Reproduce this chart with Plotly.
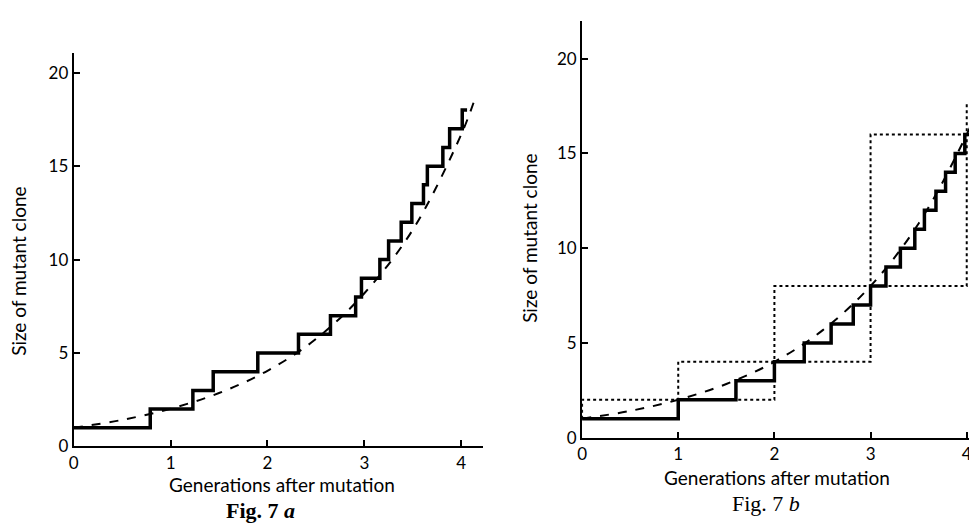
import plotly.graph_objects as go

# ---- data ----
# Fig. 7a: observed clone size (step) and expected growth (dashed)
a_step_x = [0, 0.79, 1.23, 1.44, 1.90, 2.32, 2.65, 2.91, 2.97, 3.16, 3.25, 3.38, 3.49, 3.61, 3.65, 3.81, 3.88, 4.01, 4.06]
a_step_y = [1, 2, 3, 4, 5, 6, 7, 8, 9, 10, 11, 12, 13, 14, 15, 16, 17, 18, 18]
a_curve_x = [0, 0.5, 1.0, 1.5, 2.0, 2.5, 3.0, 3.5, 4.0, 4.14]
a_curve_y = [1.0, 1.42, 2.02, 2.86, 4.05, 5.75, 8.2, 11.6, 16.7, 18.6]

# Fig. 7b: observed clone size (step), expected growth (dashed), synchronous doubling bounds (dotted)
b_step_x = [0, 1.0, 1.6, 2.0, 2.31, 2.59, 2.82, 3.0, 3.16, 3.31, 3.46, 3.56, 3.68, 3.78, 3.88, 3.98, 4.06, 4.15, 4.19]
b_step_y = [1, 2, 3, 4, 5, 6, 7, 8, 9, 10, 11, 12, 13, 14, 15, 16, 17, 18, 18]
b_curve_x = [0, 0.5, 1.0, 1.5, 2.0, 2.5, 3.0, 3.5, 4.0, 4.2]
b_curve_y = [1.0, 1.41, 2.0, 2.83, 4.0, 5.66, 8.0, 11.3, 16.0, 18.4]
b_upper_x = [0, 0, 1, 1, 2, 2, 3, 3, 4, 4]
b_upper_y = [1, 2, 2, 4, 4, 8, 8, 16, 16, 17.7]
b_lower_x = [1, 2, 2, 3, 3, 4, 4, 4.19]
b_lower_y = [2, 2, 4, 4, 8, 8, 16, 16]

tick_vals = [0, 1, 2, 3, 4]
ytick_vals = [0, 5, 10, 15, 20]

x_title = "Generations after mutation"
y_title = "Size of mutant clone"

fig = go.Figure()

# left panel
fig.add_trace(go.Scatter(x=a_curve_x, y=a_curve_y, mode="lines", line=dict(color="black", width=2, dash="dash", shape="spline"),
                         xaxis="x", yaxis="y", showlegend=False))
fig.add_trace(go.Scatter(x=a_step_x, y=a_step_y, mode="lines", line=dict(color="black", width=3.5, shape="hv"),
                         xaxis="x", yaxis="y", showlegend=False))

# right panel
fig.add_trace(go.Scatter(x=b_upper_x, y=b_upper_y, mode="lines", line=dict(color="black", width=2, dash="dot"),
                         xaxis="x2", yaxis="y2", showlegend=False))
fig.add_trace(go.Scatter(x=b_lower_x, y=b_lower_y, mode="lines", line=dict(color="black", width=2, dash="dot"),
                         xaxis="x2", yaxis="y2", showlegend=False))
fig.add_trace(go.Scatter(x=b_curve_x, y=b_curve_y, mode="lines", line=dict(color="black", width=2, dash="dash", shape="spline"),
                         xaxis="x2", yaxis="y2", showlegend=False))
fig.add_trace(go.Scatter(x=b_step_x, y=b_step_y, mode="lines", line=dict(color="black", width=3.5, shape="hv"),
                         xaxis="x2", yaxis="y2", showlegend=False))

W, H = 977, 523
font = dict(family="Lato, Open Sans, sans-serif", size=17, color="black")

def xax(dom, rng, anchor):
    return dict(domain=dom, range=rng, anchor=anchor, showline=True, linecolor="black", linewidth=2,
                ticks="inside", ticklen=6, tickwidth=1.5, tickcolor="black", tickvals=tick_vals,
                showgrid=False, zeroline=False, tickfont=font, fixedrange=True)

def yax(dom, rng, anchor):
    return dict(domain=dom, range=rng, anchor=anchor, showline=True, linecolor="black", linewidth=2,
                ticks="inside", ticklen=6, tickwidth=1.5, tickcolor="black", tickvals=ytick_vals,
                showgrid=False, zeroline=False, tickfont=font, fixedrange=True)

fig.update_layout(
    width=W, height=H,
    margin=dict(l=0, r=0, t=0, b=0),
    paper_bgcolor="white", plot_bgcolor="white",
    xaxis=xax([61 / W, 472 / W], [0, 4.22], "y"),
    yaxis=yax([(H - 447) / H, (H - 46) / H], [0, 21.05], "x"),
    xaxis2=xax([572 / W, 1.0], [0, 4.19], "y2"),
    yaxis2=yax([(H - 438) / H, (H - 13) / H], [0, 22.0], "x2"),
)

def ann(x, y, text, size=19, fam=None, angle=0, xanchor="center"):
    f = dict(font)
    f["size"] = size
    if fam:
        f["family"] = fam
    fig.add_annotation(x=x / W, y=(H - y) / H, xref="paper", yref="paper", text=text, showarrow=False,
                       xanchor=xanchor, yanchor="middle", font=f, textangle=angle)

ann(270, 486, x_title)
ann(768, 479, x_title)
ann(6, 268, y_title, angle=-90)
ann(519, 235, y_title, angle=-90)
ann(249, 512, "<b>Fig. 7 <i>a</i></b>", size=22, fam="Liberation Serif, DejaVu Serif, serif")
ann(757, 505, "Fig. 7 <i>b</i>", size=22, fam="Liberation Serif, DejaVu Serif, serif")

fig.write_html("out.html")
